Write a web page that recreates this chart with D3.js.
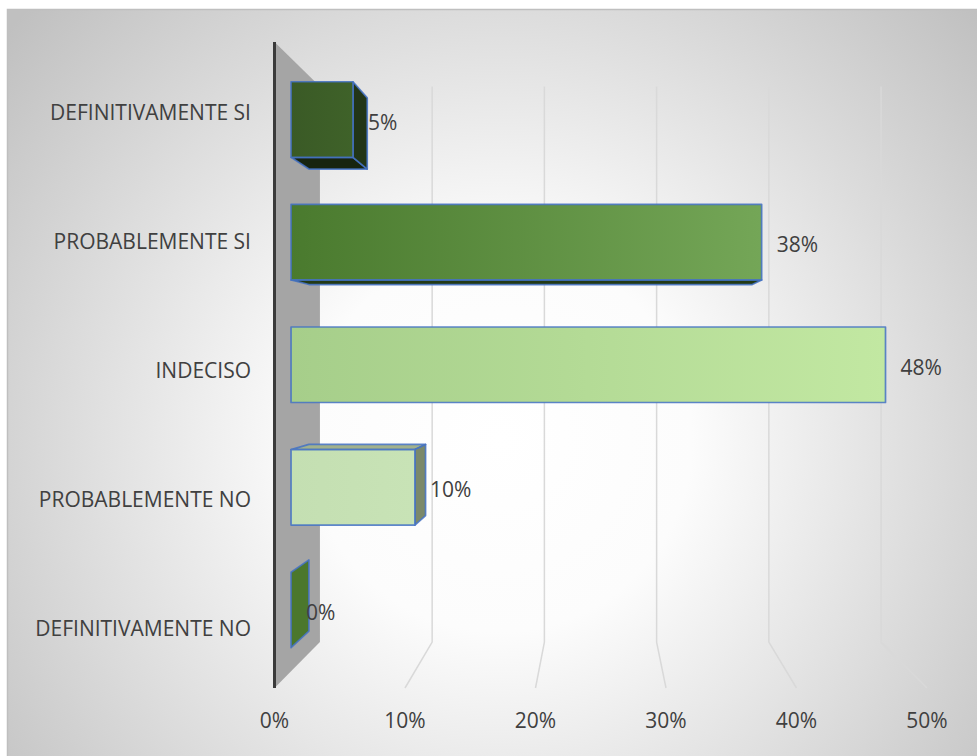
<!DOCTYPE html>
<html>
<head>
<meta charset="utf-8">
<script src="https://cdn.jsdelivr.net/npm/d3@7"></script>
<style>
  html, body { margin: 0; padding: 0; background: #ffffff; }
  svg { display: block; }
  text { font-family: "Open Sans", "Noto Sans", sans-serif; fill: #404040; }
</style>
</head>
<body>
<svg id="chart" width="977" height="756"></svg>
<script>
// Survey answers, top to bottom
const categories = ["DEFINITIVAMENTE SI", "PROBABLEMENTE SI", "INDECISO", "PROBABLEMENTE NO", "DEFINITIVAMENTE NO"];
const values = [0.05, 0.38, 0.48, 0.10, 0.00];
const ticks = [0, 0.1, 0.2, 0.3, 0.4, 0.5];

// Face colours per bar: front gradient (left, right), right side, top/bottom cap
const frontLeft  = ["#3a5a26", "#4a7a2e", "#a6ce8a", "#c4dfb2", "#4a782d"];
const frontRight = ["#3f6229", "#74a657", "#c2e8a2", "#c8e3b6", "#4a782d"];
const sideColors = ["#223517", "#2f4c1d", "#8aa072", "#7b896b", "#4b772c"];
const capColors  = ["#17240f", "#233a15", "#8ea876", "#a1b18d", "#3d6426"];

const W = 977, H = 756;
const svg = d3.select("#chart");
const defs = svg.append("defs");

// chart area background
const bg = defs.append("radialGradient")
  .attr("id", "bgGrad").attr("gradientUnits", "userSpaceOnUse")
  .attr("cx", 500).attr("cy", 440).attr("r", 640);
bg.append("stop").attr("offset", 0).attr("stop-color", "#ffffff");
bg.append("stop").attr("offset", 0.3).attr("stop-color", "#fcfcfc");
bg.append("stop").attr("offset", 1).attr("stop-color", "#c0c0c0");

svg.append("rect")
  .attr("x", 7.5).attr("y", 9.5).attr("width", W).attr("height", H)
  .attr("fill", "url(#bgGrad)").attr("stroke", "#bfbfbf").attr("stroke-width", 1.5);

// --- 3-D projection: front plane scales + vanishing point ---
const x0 = d3.scaleLinear().domain([0, 0.5]).range([274.5, 927]);
const y0 = d3.scaleBand().domain(categories).range([42, 688]);
const VP = { x: 599, y: 360 };
const S_WALL = 0.86, S_FRONT = 0.949, S_BACK = 0.894;
const proj = (px, py, s) => [VP.x + (px - VP.x) * s, VP.y + (py - VP.y) * s];
const yTopFront = 42, yBottomFront = 688;

// side wall (left)
const wallX = x0(0);
svg.append("path")
  .attr("d", d3.line()([
    proj(wallX, yTopFront, 1), proj(wallX, yTopFront, S_WALL),
    proj(wallX, yBottomFront, S_WALL), proj(wallX, yBottomFront, 1)
  ]) + "Z")
  .attr("fill", "#a5a5a5");

// gridlines on back wall running down onto the floor
svg.append("g").selectAll("path")
  .data(ticks.filter(t => t > 0))
  .join("path")
  .attr("d", t => d3.line()([
    proj(x0(t), yTopFront, S_WALL),
    proj(x0(t), yBottomFront, S_WALL),
    proj(x0(t), yBottomFront, 1)
  ]))
  .attr("fill", "none").attr("stroke", "#d9d9d9").attr("stroke-width", 1.5);

// axis line
svg.append("line")
  .attr("x1", wallX).attr("x2", wallX)
  .attr("y1", yTopFront).attr("y2", yBottomFront)
  .attr("stroke", "#3a3a3a").attr("stroke-width", 3);

// front gradients
categories.forEach((c, i) => {
  const g = defs.append("linearGradient").attr("id", "front" + i)
    .attr("x1", 0).attr("x2", 1).attr("y1", 0).attr("y2", 0);
  g.append("stop").attr("offset", 0).attr("stop-color", frontLeft[i]);
  g.append("stop").attr("offset", 1).attr("stop-color", frontRight[i]);
});

// bars
const bw = y0.bandwidth();
const barsG = svg.append("g");
const edge = sel => sel.attr("stroke", "#4472c4").attr("stroke-opacity", 0.85)
  .attr("stroke-width", 1.7).attr("stroke-linejoin", "round");

categories.forEach((c, i) => {
  const v = values[i];
  const yt = y0(c) + bw * 0.192, yb = y0(c) + bw * 0.808;
  const xl = x0(0), xr = x0(v);
  const F = (px, py) => proj(px, py, S_FRONT);
  const B = (px, py) => proj(px, py, S_BACK);
  const g = barsG.append("g");
  const poly = pts => d3.line()(pts) + "Z";

  // bottom face
  if (F(xl, yb)[1] < VP.y) {
    g.append("path").attr("d", poly([F(xl, yb), F(xr, yb), B(xr, yb), B(xl, yb)]))
      .attr("fill", capColors[i]).call(edge);
  }
  // top face
  if (F(xl, yt)[1] > VP.y && v > 0) {
    g.append("path").attr("d", poly([F(xl, yt), F(xr, yt), B(xr, yt), B(xl, yt)]))
      .attr("fill", capColors[i]).call(edge);
  }
  // right side face
  if (F(xr, yt)[0] < VP.x) {
    g.append("path").attr("d", poly([F(xr, yt), B(xr, yt), B(xr, yb), F(xr, yb)]))
      .attr("fill", sideColors[i]).call(edge);
  }
  // front face
  if (v > 0) {
    const a = F(xl, yt), b = F(xr, yb);
    g.append("rect").attr("x", a[0]).attr("y", a[1])
      .attr("width", b[0] - a[0]).attr("height", b[1] - a[1])
      .attr("fill", `url(#front${i})`).call(edge);
  }
});

// data labels
const fmt = d3.format(".0%");
svg.append("g").selectAll("text")
  .data(categories)
  .join("text")
  .attr("x", (c, i) => proj(x0(values[i]), y0(c) + bw / 2, S_FRONT)[0] + 15)
  .attr("y", (c, i) => proj(x0(values[i]), y0(c) + bw / 2, S_FRONT)[1] + 2)
  .attr("dominant-baseline", "central")
  .attr("font-size", 21)
  .text((c, i) => fmt(values[i]));

// category labels
svg.append("g").selectAll("text")
  .data(categories)
  .join("text")
  .attr("x", 251)
  .attr("y", c => y0(c) + bw / 2 + 5)
  .attr("text-anchor", "end")
  .attr("dominant-baseline", "central")
  .attr("font-size", 21)
  .text(c => c);

// value axis tick labels
svg.append("g").selectAll("text")
  .data(ticks)
  .join("text")
  .attr("x", t => x0(t))
  .attr("y", 720)
  .attr("text-anchor", "middle")
  .attr("dominant-baseline", "central")
  .attr("font-size", 21)
  .text(t => fmt(t));
</script>
</body>
</html>
